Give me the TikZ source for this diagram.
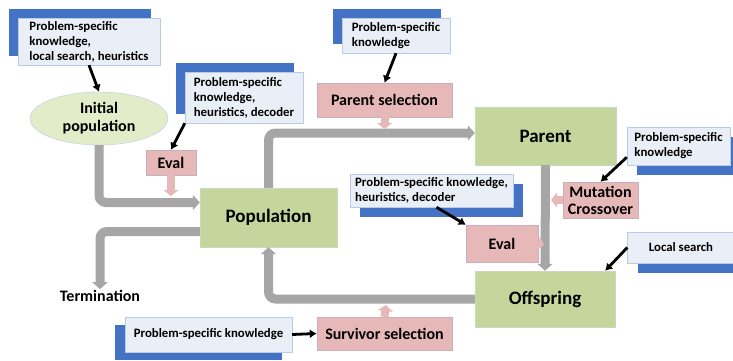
\documentclass[tikz,border=0pt]{standalone}
\usepackage{fontspec}
\setmainfont{Carlito}
\usetikzlibrary{positioning,arrows.meta,shapes.geometric,shadows}

\definecolor{popgreen}{RGB}{196,214,155}
\definecolor{initgreen}{RGB}{226,236,200}
\definecolor{boxedge}{RGB}{205,215,190}
\definecolor{oppink}{RGB}{230,185,184}
\definecolor{opedge}{RGB}{200,175,185}
\definecolor{kfill}{RGB}{234,239,247}
\definecolor{kedge}{RGB}{184,204,228}
\definecolor{kblue}{RGB}{68,114,196}
\definecolor{flowgray}{RGB}{166,166,166}

\begin{document}
\begin{tikzpicture}[
  x=1pt, y=-1pt,
  box/.style={draw=boxedge, fill=popgreen, font=\fontsize{19}{22}\selectfont\bfseries,
              inner sep=2pt},
  opbox/.style={draw=opedge, fill=oppink, font=\fontsize{16}{18}\selectfont\bfseries,
                align=center, inner sep=2pt},
  kbox/.style={draw=kedge, fill=kfill, font=\fontsize{12.8}{15}\selectfont\bfseries,
               align=left, inner sep=2pt},
  sh ul/.style={general shadow={fill=kblue, shadow xshift=-9pt, shadow yshift=9pt}},
  sh dl/.style={general shadow={fill=kblue, shadow xshift=-10pt, shadow yshift=-8pt}},
  sh dr/.style={general shadow={fill=kblue, shadow xshift=10pt, shadow yshift=-10pt}},
  flow/.style={draw=flowgray, line width=9pt, rounded corners=7pt,
               -{Triangle[width=15pt,length=7pt]}},
  opin/.style={draw=oppink, line width=8pt, -{Triangle[width=15pt,length=6pt]}},
  karr/.style={-{Latex[length=7pt,width=9pt]}, line width=2.8pt},
]
\useasboundingbox (0,0) rectangle (733,361);

%% Nodes
\node[ellipse, draw=kedge, fill=initgreen, minimum width=138pt, minimum height=53pt,
      align=center, font=\fontsize{16}{18}\selectfont\bfseries, inner sep=0pt]
      (init) at (99,118.5) {Initial\\population};
\node[box, minimum width=137pt, minimum height=59pt] (pop)    at (268.5,217.5) {Population};
\node[box, minimum width=141pt, minimum height=58pt] (parent) at (545.5,136)   {Parent};
\node[box, minimum width=140pt, minimum height=56pt] (off)    at (545,299)     {Offspring};

\node[opbox, minimum width=50pt,  minimum height=25pt] (eval1)  at (171,162.5)   {Eval};
\node[opbox, minimum width=135pt, minimum height=34pt] (parsel) at (384.5,100)   {Parent selection};
\node[opbox, minimum width=75pt,  minimum height=36pt, font=\fontsize{16}{17}\selectfont\bfseries]
      (mut)    at (600.5,200)   {Mutation\\Crossover};
\node[opbox, minimum width=72pt,  minimum height=37pt] (eval2)  at (502,243.5)   {Eval};
\node[opbox, minimum width=135pt, minimum height=33pt] (surv)   at (384.5,333.5) {Survivor selection};

\node[font=\fontsize{16}{18}\selectfont\bfseries, inner sep=1pt] (term) at (100,296) {Termination};

%% Knowledge boxes
\node[kbox, sh ul, minimum width=142pt, minimum height=47pt] (kInit)   at (89,41.5)
  {Problem-specific\\knowledge,\\local search, heuristics};
\node[kbox, sh ul, minimum width=118pt, minimum height=51pt] (kEval)   at (244,97.5)
  {Problem-specific\\knowledge,\\heuristics, decoder};
\node[kbox, sh ul, minimum width=108pt, minimum height=35pt] (kParSel) at (396,35.5)
  {Problem-specific\\knowledge};
\node[kbox, sh dr, minimum width=103pt, minimum height=38pt] (kMut)    at (678.5,146)
  {Problem-specific\\knowledge};
\node[kbox, sh dr, minimum width=163pt, minimum height=33pt] (kEvalB)  at (431.5,190.5)
  {Problem-specific knowledge,\\heuristics, decoder};
\node[kbox, sh dr, minimum width=107pt, minimum height=31pt] (kLocal)  at (681,247.5)
  {Local search};
\node[kbox, sh dl, minimum width=167pt, minimum height=35pt] (kSurv)   at (208.5,334.5)
  {Problem-specific knowledge};

%% Tips of the small operator arrows
\coordinate (eval1tip)  at (171,196);
\coordinate (parseltip) at (384.5,129);
\coordinate (muttip)    at (551,200);
\coordinate (eval2tip)  at (544,245);
\coordinate (survtip)   at (386,305);

%% Main flow
% initial population -> population
\draw[flow] (init.south) |- ([yshift=15pt]pop.west);
% population -> termination
\draw[flow] ([yshift=-14pt]pop.west) -| (term.north);
% population -> parent
\draw[flow] (pop.north) |- ([yshift=3pt]parent.west);
% parent -> offspring
\draw[flow] (parent.south) -- (off.north);
% offspring -> population
\draw[flow] (off.west) -| (pop.south);

%% Operators acting on the flow
\draw[opin] (eval1.south)  -- (eval1tip);
\draw[opin] (parsel.south) -- (parseltip);
\draw[opin] (mut.west)     -- (muttip);
\draw[opin] (eval2.east)   -- (eval2tip);
\draw[opin] (surv.north)   -- (survtip);

%% Knowledge -> operators
\draw[karr] (kInit.south) -- (init.north);
\draw[karr] (kEval.south west) -- (eval1.north);
\draw[karr] (kParSel.south) -- (parsel.north);
\draw[karr] ([yshift=8pt]kMut.south west) -- (mut.north);
\draw[karr] ([xshift=5pt]kEvalB.south) -- (eval2.north west);
\draw[karr] (kLocal.west) -- ([xshift=-10pt]off.north east);
\draw[karr] (kSurv.east) -- (surv.west);

\end{tikzpicture}
\end{document}
